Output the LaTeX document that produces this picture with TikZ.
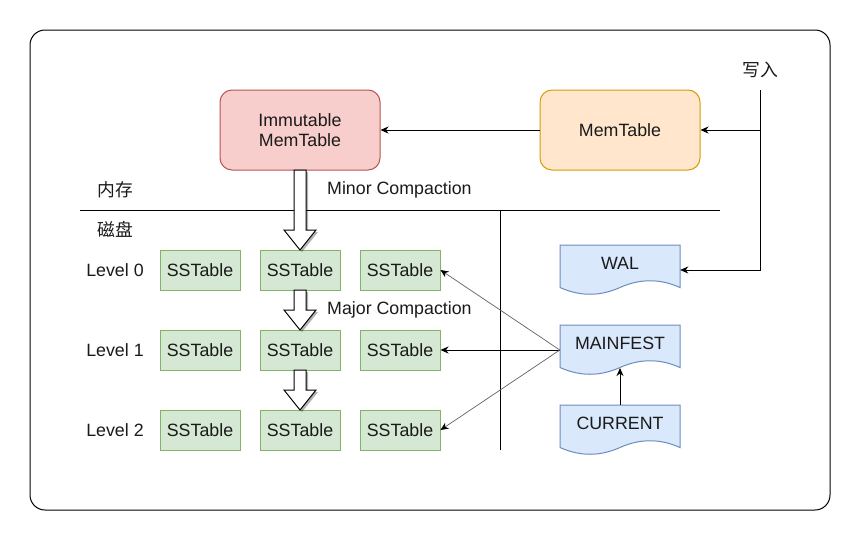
\documentclass[tikz,border=0pt]{standalone}
\usepackage{fontspec}
\setmainfont{Liberation Sans}
\newfontfamily\cjk{Noto Sans CJK SC}
\usetikzlibrary{arrows.meta}
\definecolor{redfill}{HTML}{F8CECC}
\definecolor{redline}{HTML}{B85450}
\definecolor{orfill}{HTML}{FFE6CC}
\definecolor{orline}{HTML}{D79B00}
\definecolor{grfill}{HTML}{D5E8D4}
\definecolor{grline}{HTML}{82B366}
\definecolor{blfill}{HTML}{DAE8FC}
\definecolor{blline}{HTML}{6C8EBF}
\definecolor{txtc}{HTML}{1A1A1A}
\tikzset{
  base/.style={font=\fontsize{17.8}{20.5}\selectfont, text=txtc},
  memt/.style={base, draw, rounded corners=12pt, minimum width=160pt, minimum height=80pt, inner sep=0pt, align=center, line width=1pt},
  sst/.style={base, draw=grline, fill=grfill, minimum width=80pt, minimum height=40pt, inner sep=0pt, line width=1pt},
  docbox/.style={minimum width=120pt, minimum height=50pt, inner sep=0pt},
  txt/.style={base, inner sep=0pt},
  arr/.style={line width=1pt, -{Stealth[length=8pt,width=7pt,inset=2.5pt]}},
  thinarr/.style={line width=0.7pt, draw=black!62, -{Stealth[length=8pt,width=7pt,inset=2.5pt,color=black,fill=black]}},
  docshape/.style={fill=blfill, draw=blline, line width=1pt},
  blockarr/.style={fill=white, draw=black, line width=1pt},
  blockshadow/.style={fill=black, opacity=0.3, draw=none},
}
\newcommand{\docpath}[3]{% style, left x, top y
  \path[#1, shift={(#2,#3)}] (0,0) -- (120,0) -- (120,42.5)
     .. controls (100,33.5) and (80,33.5) .. (60,42.5)
     .. controls (40,51.5) and (20,51.5) .. (0,42.5) -- cycle;
}
\newcommand{\blockarrow}[3]{% top y, head base y, tip y
  \path[blockshadow, shift={(2,2)}] (294,#1) -- (306,#1) -- (306,#2) -- (316,#2) -- (300,#3) -- (284,#2) -- (294,#2) -- cycle;
  \path[blockarr] (294,#1) -- (306,#1) -- (306,#2) -- (316,#2) -- (300,#3) -- (284,#2) -- (294,#2) -- cycle;
}
\begin{document}
\begin{tikzpicture}[x=1pt, y=-1pt]
\useasboundingbox (0,0) rectangle (861,541);
% outer frame
\draw[line width=1pt, rounded corners=15pt] (30,30) rectangle (830,510);

% memory tables
\node[memt, draw=redline, fill=redfill] (imm) at (300,130) {Immutable\\MemTable};
\node[memt, draw=orline, fill=orfill] (mem) at (620,130) {MemTable};

% write input
\node[txt] (inp) at (760,70) {\cjk 写入};
\coordinate (wtop) at (760,90);

% separators
\draw[line width=1pt] (80,210) -- (720,210);
\draw[line width=1pt] (500,210) -- (500,450);

\node[txt] (nc) at (115,190) {\cjk 内存};
\node[txt] (cp) at (115,229) {\cjk 磁盘};
\node[txt, anchor=west] (minor) at (327,190) {Minor Compaction};
\node[txt, anchor=west] (major) at (327,310) {Major Compaction};

% levels
\node[txt] (l0) at (115,270) {Level 0};
\node[txt] (l1) at (115,350) {Level 1};
\node[txt] (l2) at (115,430) {Level 2};

\node[sst] (s00) at (200,270) {SSTable};
\node[sst] (s01) at (300,270) {SSTable};
\node[sst] (s02) at (400,270) {SSTable};
\node[sst] (s10) at (200,350) {SSTable};
\node[sst] (s11) at (300,350) {SSTable};
\node[sst] (s12) at (400,350) {SSTable};
\node[sst] (s20) at (200,430) {SSTable};
\node[sst] (s21) at (300,430) {SSTable};
\node[sst] (s22) at (400,430) {SSTable};

% block arrows
\blockarrow{170}{230}{250}
\blockarrow{290}{310}{330}
\blockarrow{370}{390}{410}

% documents
\docpath{docshape}{560}{245}
\docpath{docshape}{560}{325}
\docpath{docshape}{560}{405}
\node[docbox] (wal) at (620,270) {};
\node[docbox] (mf) at (620,350) {};
\node[docbox] (cur) at (620,430) {};
\node[txt] (wallbl) at (620,263) {WAL};
\node[txt] (mflbl) at (620,343) {MAINFEST};
\node[txt] (curlbl) at (620,423) {CURRENT};
\coordinate (mfbot) at (620,368);

% connectors
\draw[arr] (wtop) |- (mem.east);
\draw[arr] (wtop) |- (wal.east);
\draw[arr] (mem.west) -- (imm.east);
\draw[arr] (mf.west) -- (s12.east);
\draw[thinarr] (mf.west) -- (s02.east);
\draw[thinarr] (mf.west) -- (s22.east);
\draw[arr] (cur.north) -- (mfbot);
\end{tikzpicture}
\end{document}
